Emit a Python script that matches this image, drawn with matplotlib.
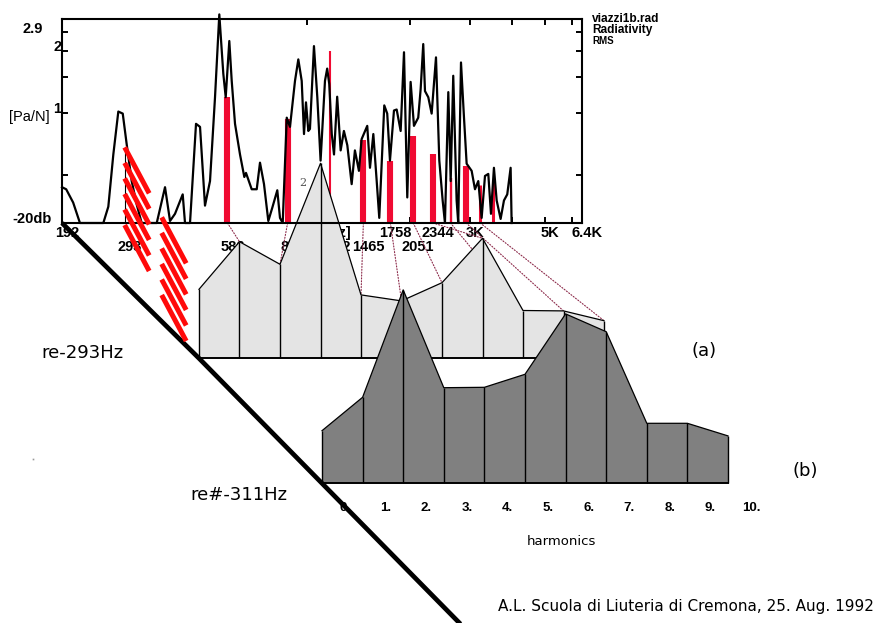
import matplotlib
matplotlib.use("Agg")
import matplotlib.pyplot as plt
import matplotlib.transforms as mtransforms
from matplotlib.patches import ConnectionPatch
from matplotlib.lines import Line2D
from matplotlib.ticker import FixedLocator, NullLocator
import numpy as np

W, H, DPI = 887, 623, 100

# ---------------- data ----------------
# radiativity spectrum (Hz, dB re 2.9 Pa/N)
spec_freq = [192, 197.5, 207, 216.7, 253.7, 262.4, 271.4, 280.7, 289.2, 297,
             307.2, 317.8, 328.6, 363.7, 384.6, 397.8, 411.4, 433.3, 440.1, 455.2,
             474, 487, 503.6, 520.9, 538.8, 554.6, 569.8, 579.1, 593.3, 603,
             616.6, 637.7, 656.5, 664, 690, 713.8, 729.7, 749.7, 771.8, 792.9,
             820, 835, 850.5, 874, 893.3, 924, 944.9, 966.7, 981.8, 995,
             1011, 1022, 1050, 1074, 1098, 1131, 1148, 1164, 1184, 1202,
             1228, 1257, 1285, 1315, 1354, 1384, 1422, 1448, 1504, 1532,
             1567, 1603, 1631, 1687, 1721, 1753, 1801, 1834, 1884, 1927,
             1970, 2015, 2061, 2121, 2156, 2194, 2220, 2270, 2322, 2391,
             2445, 2501, 2540, 2598, 2640, 2686, 2748, 2778, 2830, 2888,
             2940, 3041, 3110, 3180, 3253, 3327, 3402, 3464, 3534, 3600,
             3697, 3781, 3866, 3955, 3982]
spec_db = [-16.5, -16.7, -18.0, -20, -20, -18.4, -13.3, -9.1, -9.3, -12.3,
           -15.9, -18.2, -20, -20, -16.5, -19.8, -19.1, -17.2, -20, -20,
           -10.3, -10.6, -18.3, -15.9, -7.7, 0.4, -5.4, -7.7, -2.2, -6.1,
           -10.3, -13.3, -15.5, -15.1, -16.7, -16.7, -14.1, -16.2, -19.8, -18.5,
           -16.8, -19.5, -20, -9.7, -10.6, -6.1, -4.0, -6.1, -11.3, -8.2,
           -11.0, -10.8, -2.7, -7.7, -13.9, -6.1, -4.9, -6.4, -11.3, -13.3,
           -7.65, -12.9, -11.0, -12.4, -16.2, -12.9, -14.9, -11.8, -10.5, -14.6,
           -11.3, -15.9, -19.5, -8.5, -9.3, -13.9, -9.0, -8.9, -11.0, -3.3,
           -17.5, -6.2, -10.5, -9.7, -6.9, -2.5, -7.1, -7.7, -9.3, -3.8,
           -13.9, -17.8, -20, -7.2, -15.9, -5.6, -17.8, -20, -4.3, -9.7,
           -14.2, -14.9, -16.7, -15.9, -19.5, -15.4, -15.2, -19.1, -14.6, -17.8,
           -19.6, -17.8, -17.2, -14.6, -20]

fund_freq = 293
fund_db = -12.6
harm_freq = [586, 879, 1172, 1465, 1758, 2051, 2344, 2637, 2930, 3223, 3516]
harm_db = [-7.7, -9.8, -3.2, -11.9, -13.9, -11.5, -13.3, -15.6, -14.4, -16.3, -15.8]

PA_MAX = 2.9
pa_ticks = [0.5, 1, 1.5, 2, 2.5]
freq_ticks = [1000, 2000, 3000, 4000, 5000, 6000]
row1_freqs = [192, 1758, 2344, 3000, 5000, 6400]
row1_text = ['192', '1758', '2344', '3K', '5K', '6.4K']
row2_freqs = [293, 586, 879, 1172, 1465, 2051]
row2_text = ['293', '586', '879', '1172', '1465', '2051']

harmonic_idx = list(range(11))
harmonic_text = ['0.', '1.', '2.', '3.', '4.', '5.', '6.', '7.', '8.', '9.', '10.']
level_a = [34.5, 58.3, 47, 97.5, 31.7, 28.7, 37.8, 60, 23.9, 23.7, 18.8]   # re-293Hz
level_b = [26.3, 43, 96.7, 47.8, 48, 54.5, 84.7, 75.8, 30, 30, 23.7]      # re#-311Hz

# ---------------- styles ----------------
BAR_RED = '#f00a32'
SLASH_RED = '#ff0a0a'
DOT_RED = '#8c2a4a'
bar_lw = [4.4, 4.4, 1.5, 4.4, 4.4, 4.4, 4.4, 1.7, 4.4, 2.2, 2.2]
TICKFONT = ['Liberation Sans', 'DejaVu Sans']
SANS = ['DejaVu Sans']

fig = plt.figure(figsize=(W / DPI, H / DPI), dpi=DPI, facecolor='white')


def add_px_axes(left, top, right, bottom):
    return fig.add_axes([left / W, 1 - bottom / H, (right - left) / W, (bottom - top) / H])


def db(pa):
    return 20 * np.log10(pa / PA_MAX)


# ---------------- spectrum ----------------
ax = add_px_axes(62, 18.5, 582, 223)
ax.set_zorder(0)
ax.set_xscale('log')
ax.set_xlim(192, 6400)
ax.set_ylim(-20, 0)
ax.plot(spec_freq, spec_db, color='black', lw=1.6, clip_on=False, zorder=3,
        solid_joinstyle='round')
ax.vlines(harm_freq, -20, harm_db, colors=BAR_RED, linewidths=bar_lw, zorder=2)
ax.vlines([fund_freq], -20, fund_db, colors='black', linewidths=0.8, zorder=2)

ax.xaxis.set_major_locator(FixedLocator(freq_ticks))
ax.xaxis.set_minor_locator(NullLocator())
ax.yaxis.set_major_locator(FixedLocator([db(v) for v in pa_ticks]))
ax.yaxis.set_minor_locator(NullLocator())
ax.tick_params(which='major', direction='in', length=4.5, width=1.4,
               top=True, right=True, labelbottom=False, labelleft=False)
for sp in ax.spines.values():
    sp.set_linewidth(1.5)
ax.spines['bottom'].set_visible(False)

xt1 = mtransforms.offset_copy(ax.get_xaxis_transform(), fig=fig, x=5, y=-10, units='dots')
xt2 = mtransforms.offset_copy(ax.get_xaxis_transform(), fig=fig, x=5, y=-24, units='dots')
for f, t in zip(row1_freqs, row1_text):
    ax.text(f, 0, t, transform=xt1, ha='center', va='center', fontsize=10.5,
            family=TICKFONT, fontweight='bold', clip_on=False)
for f, t in zip(row2_freqs, row2_text):
    ax.text(f, 0, t, transform=xt2, ha='center', va='center', fontsize=10.5,
            family=TICKFONT, fontweight='bold', clip_on=False)
ax.text(0.529, -0.049, '[Hz]', transform=ax.transAxes, ha='center', va='center',
        fontsize=10.5, family=TICKFONT, fontweight='bold', clip_on=False)

yt = ax.get_yaxis_transform()
ax.text(-0.056, -1.0, '2.9', transform=yt, ha='center', va='center', fontsize=10.5,
        family=TICKFONT, fontweight='bold')
ax.text(-0.001, db(2), '2', transform=yt, ha='right', va='baseline', fontsize=10.5,
        family=TICKFONT, fontweight='bold')
ax.text(-0.001, db(1), '1', transform=yt, ha='right', va='baseline', fontsize=10.5,
        family=TICKFONT, fontweight='bold')
ax.text(-0.0635, -9.6, '[Pa/N]', transform=yt, ha='center', va='center', fontsize=10.5,
        family=TICKFONT)
ax.text(-0.019, -20, '-20db', transform=yt, ha='right', va='baseline', fontsize=10.5,
        family=TICKFONT, fontweight='bold')

# ---------------- harmonic envelopes ----------------
def envelope(axe, levels, face):
    axe.set_xlim(0, 10)
    axe.set_ylim(0, 100)
    axe.axis('off')
    axe.patch.set_visible(False)
    axe.fill_between(harmonic_idx, 0, levels, facecolor=face, edgecolor='none')
    axe.plot(harmonic_idx, levels, color='black', lw=0.9, clip_on=False)
    axe.vlines(harmonic_idx, 0, levels, colors='black', linewidths=1.0, clip_on=False)
    axe.plot([0, 10], [0, 0], color='black', lw=1.4, clip_on=False)


ax_a = add_px_axes(199, 158.3, 604, 358.3)
ax_a.set_zorder(1)
envelope(ax_a, level_a, '#e4e4e4')

ax_b = add_px_axes(322, 283.3, 728, 483.3)
ax_b.set_zorder(2)
envelope(ax_b, level_b, '#808080')
for i, t in zip(harmonic_idx, harmonic_text):
    ax_b.text(i + 0.57, -12.4, t, ha='center', va='center', fontsize=9.5,
              family=TICKFONT, fontweight='bold', clip_on=False)
ax_b.text(5.9, -29, 'harmonics', ha='center', va='center', fontsize=9.5,
          family=SANS, clip_on=False)

# dotted links from each partial to its place on the envelope
for f, i in zip(harm_freq[:10], harmonic_idx[1:]):
    con = ConnectionPatch(xyA=(f, -20), coordsA=ax.transData,
                          xyB=(i, level_a[i]), coordsB=ax_a.transData,
                          linestyle=(0, (1, 1.6)), color=DOT_RED, lw=0.8)
    con.set_zorder(0.5)
    fig.add_artist(con)

# ---------------- overlay: note axis, fundamental, labels ----------------
ov = fig.add_axes([0, 0, 1, 1])
ov.set_zorder(3)
ov.set_xlim(0, W)
ov.set_ylim(H, 0)
ov.axis('off')
ov.patch.set_visible(False)


def to_px(axe, xy):
    d = axe.transData.transform(xy)
    return d[0] * W / fig.bbox.width, H - d[1] * H / fig.bbox.height


p0 = np.array(to_px(ax, (192, -20)))
p1 = np.array(to_px(ax_a, (0, 0)))
p2 = np.array(to_px(ax_b, (0, 0)))
d = p2 - p1
p3 = p2 + d * ((H + 10 - p2[1]) / d[1])
ov.plot([p0[0], p1[0], p2[0], p3[0]], [p0[1], p1[1], p2[1], p3[1]],
        color='black', lw=3.4, solid_capstyle='butt')

# bottom frame line of the spectrum, kept above the envelopes
ov.add_line(Line2D([0, 1], [0, 0], transform=ax.transAxes, color='black', lw=1.5,
                   clip_on=False))

# fundamental drawn as slanted strips toward the envelope
ftop = np.array(to_px(ax, (fund_freq, fund_db)))
fbot = np.array(to_px(ax, (fund_freq, -20)))
step = np.array([24.5, 46.0])
shift = np.array([37.0, 70.0])
for col in range(2):
    for y in np.linspace(ftop[1], fbot[1] + 2, 6):
        s = np.array([ftop[0], y]) + col * shift
        e = s + step
        ov.plot([s[0], e[0]], [s[1], e[1]], color=SLASH_RED, lw=3.6,
                solid_capstyle='butt')

ov.text(82, 353, 're-293Hz', ha='center', va='center', fontsize=13, family=SANS)
ov.text(239, 495, 're#-311Hz', ha='center', va='center', fontsize=13, family=SANS)
ov.text(704, 351, '(a)', ha='center', va='center', fontsize=13, family=SANS)
ov.text(805, 471, '(b)', ha='center', va='center', fontsize=13, family=SANS)
ov.text(686, 606, 'A.L. Scuola di Liuteria di Cremona, 25. Aug. 1992',
        ha='center', va='center', fontsize=11, family=SANS)
ov.text(592, 19, 'viazzi1b.rad', ha='left', va='center', fontsize=8.6,
        family=TICKFONT, fontweight='bold')
ov.text(592, 30.5, 'Radiativity', ha='left', va='center', fontsize=8.6,
        family=TICKFONT, fontweight='bold')
ov.text(592, 41.5, 'RMS', ha='left', va='center', fontsize=7,
        family=TICKFONT, fontweight='bold')
ov.text(303, 183, '2', ha='center', va='center', fontsize=8, family=['DejaVu Serif'],
        color='#555555')
ov.plot([33], [459], marker='s', ms=1.2, color='#999999', mew=0)

fig.savefig('out.png', dpi=DPI, facecolor='white')
